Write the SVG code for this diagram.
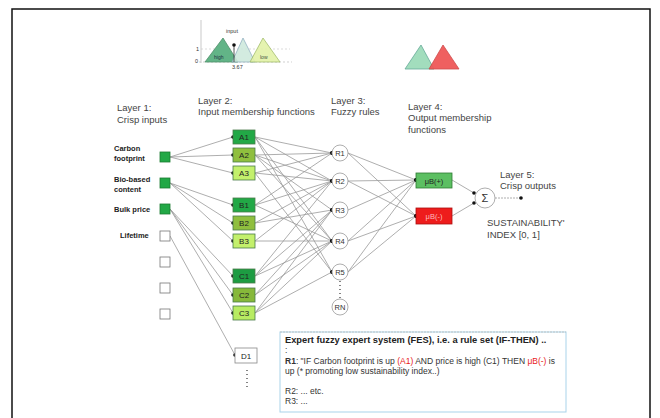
<svg xmlns="http://www.w3.org/2000/svg" width="660" height="418" viewBox="0 0 660 418">
<defs>
<marker id="dot" viewBox="0 0 4 4" refX="2" refY="2" markerWidth="4" markerHeight="4" markerUnits="userSpaceOnUse"><circle cx="2" cy="2" r="1.8" fill="#111"/></marker>
<style>
text{font-family:"Liberation Sans",Arial,sans-serif;fill:#333}
.lbl{font-size:9.5px;fill:#444}
.in{font-size:7.5px;font-weight:bold;fill:#222}
.bx{font-size:8px;fill:#222;text-anchor:middle}
.c{fill:none;stroke:#999;stroke-width:0.8;marker-end:url(#dot)}
.sq{stroke:#1a7a30;stroke-width:0.8}
.wsq{fill:#fff;stroke:#777;stroke-width:0.8}
.mf{stroke:#4a7a4a;stroke-width:0.8}
.rn{fill:#fff;stroke:#999;stroke-width:0.8}
.rt{font-size:7.5px;fill:#333;text-anchor:middle}
.ru{font-size:8.5px;fill:#333}
.red{fill:#e82020}
</style>
</defs>
<rect x="12" y="9" width="638" height="430" fill="#fff" stroke="#111" stroke-width="1.5"/>

<g id="mf-input-plot">
<line x1="201" y1="20" x2="201" y2="63" stroke="#bbb" stroke-width="0.8"/>
<line x1="201" y1="49" x2="290" y2="49" stroke="#ccc" stroke-width="0.7" stroke-dasharray="2,2"/>
<line x1="199" y1="62" x2="292" y2="62" stroke="#bbb" stroke-width="0.7" stroke-dasharray="2,2"/>
<polygon points="205,62 223,38 238,62" fill="#62b487" stroke="#4f8f6a" stroke-width="0.8"/>
<polygon points="232,62 243,38 255,62" fill="#cfe9dd" stroke="#8ab" stroke-width="0.8" opacity="0.9"/>
<polygon points="250,62 263,38 280,62" fill="#e3f2a8" stroke="#9ab860" stroke-width="0.8" opacity="0.9"/>
<line x1="234" y1="45" x2="234" y2="62" stroke="#333" stroke-width="0.8"/>
<circle cx="234" cy="45" r="1.8" fill="#111"/>
<text x="226" y="33" style="font-size:5.5px">input</text>
<text x="196" y="51" style="font-size:5.5px">1</text>
<text x="195" y="63" style="font-size:5.5px">0</text>
<text x="214" y="59" style="font-size:5px;fill:#234">high</text>
<text x="260" y="59" style="font-size:5px;fill:#454">low</text>
<text x="232" y="69" style="font-size:5.5px">3.67</text>
</g>

<g id="mf-output-plot">
<polygon points="405,69 421,45 434,69" fill="#a2ddbd" stroke="#6a9" stroke-width="0.8"/>
<polygon points="429,69 443,45 459,69" fill="#ef5858" stroke="#c44" stroke-width="0.8" opacity="0.95"/>
</g>

<g id="layer-labels">
<text class="lbl" x="117" y="111">Layer 1:</text>
<text class="lbl" x="117" y="123">Crisp  inputs</text>
<text class="lbl" x="198" y="104">Layer 2:</text>
<text class="lbl" x="198" y="115">Input membership functions</text>
<text class="lbl" x="331" y="104">Layer 3:</text>
<text class="lbl" x="331" y="115">Fuzzy rules</text>
<text class="lbl" x="408" y="110">Layer 4:</text>
<text class="lbl" x="408" y="121">Output membership</text>
<text class="lbl" x="408" y="133">functions</text>
<text class="lbl" x="500" y="178">Layer 5:</text>
<text class="lbl" x="500" y="189">Crisp outputs</text>
<text class="lbl" x="487" y="226">SUSTAINABILITY'</text>
<text class="lbl" x="487" y="238">INDEX [0, 1]</text>
</g>

<g id="connectors">
<path class="c" d="M170,157 L233,137"/>
<path class="c" d="M170,157 L233,155"/>
<path class="c" d="M170,157 L233,173"/>
<path class="c" d="M170,183 L233,205"/>
<path class="c" d="M170,183 L233,223"/>
<path class="c" d="M170,183 L233,241"/>
<path class="c" d="M170,209 L233,276"/>
<path class="c" d="M170,209 L233,295"/>
<path class="c" d="M170,209 L233,313"/>
<path class="c" d="M170,236 L235,355"/>
<path class="c" d="M255,137 L332,153"/>
<path class="c" d="M255,137 L332,181"/>
<path class="c" d="M255,137 L332,241"/>
<path class="c" d="M255,137 L332,272"/>
<path class="c" d="M255,155 L332,153"/>
<path class="c" d="M255,155 L332,181"/>
<path class="c" d="M255,155 L332,210"/>
<path class="c" d="M255,155 L332,241"/>
<path class="c" d="M255,173 L332,153"/>
<path class="c" d="M255,173 L332,181"/>
<path class="c" d="M255,173 L332,272"/>
<path class="c" d="M255,205 L332,153"/>
<path class="c" d="M255,205 L332,181"/>
<path class="c" d="M255,205 L332,241"/>
<path class="c" d="M255,223 L332,181"/>
<path class="c" d="M255,223 L332,210"/>
<path class="c" d="M255,241 L332,181"/>
<path class="c" d="M255,241 L332,241"/>
<path class="c" d="M255,276 L332,181"/>
<path class="c" d="M255,276 L332,210"/>
<path class="c" d="M255,276 L332,241"/>
<path class="c" d="M255,295 L332,210"/>
<path class="c" d="M255,295 L332,241"/>
<path class="c" d="M255,313 L332,210"/>
<path class="c" d="M255,313 L332,241"/>
<path class="c" d="M255,313 L332,272"/>
<path class="c" d="M348,153 L416,180"/>
<path class="c" d="M348,153 L416,216"/>
<path class="c" d="M348,181 L416,180"/>
<path class="c" d="M348,181 L416,216"/>
<path class="c" d="M348,210 L416,180"/>
<path class="c" d="M348,241 L416,180"/>
<path class="c" d="M348,241 L416,216"/>
<path class="c" d="M348,272 L416,216"/>
<path class="c" d="M348,272 L416,180"/>
<path class="c" d="M452,180 L474,193"/>
<path class="c" d="M452,216 L474,203"/>
<path class="c" d="M495,198 L521,198" stroke-dasharray="2,1"/>
<line x1="340" y1="281" x2="340" y2="298" stroke="#333" stroke-width="1.2" stroke-dasharray="1,3"/>
<line x1="247" y1="370" x2="247" y2="388" stroke="#333" stroke-width="1.2" stroke-dasharray="1,3"/>
</g>

<g id="layer1">
<g id="in-carbon"><text class="in" x="114" y="151">Carbon</text><text class="in" x="114" y="161">footprint</text><rect class="sq" x="160" y="152" width="10" height="10" fill="#22a846"/></g>
<g id="in-bio"><text class="in" x="114" y="182">Bio-based</text><text class="in" x="114" y="192">content</text><rect class="sq" x="160" y="178" width="10" height="10" fill="#22a846"/></g>
<g id="in-bulk"><text class="in" x="114" y="212">Bulk price</text><rect class="sq" x="160" y="204" width="10" height="10" fill="#22a846"/></g>
<g id="in-lifetime"><text class="in" x="120" y="238">Lifetime</text><rect class="wsq" x="160" y="231" width="10" height="10"/></g>
<g id="in-e1"><rect class="wsq" x="160" y="257" width="10" height="10"/></g>
<g id="in-e2"><rect class="wsq" x="160" y="283" width="10" height="10"/></g>
<g id="in-e3"><rect class="wsq" x="160" y="309" width="10" height="10"/></g>
</g>

<g id="layer2">
<g id="A1"><rect class="mf" x="233" y="130" width="22" height="14" fill="#22a846"/><text class="bx" x="244" y="140">A1</text></g>
<g id="A2"><rect class="mf" x="233" y="148" width="22" height="14" fill="#8fbf3e"/><text class="bx" x="244" y="158">A2</text></g>
<g id="A3"><rect class="mf" x="233" y="166" width="22" height="14" fill="#c3f06c"/><text class="bx" x="244" y="176">A3</text></g>
<g id="B1"><rect class="mf" x="233" y="198" width="22" height="14" fill="#22a846"/><text class="bx" x="244" y="208">B1</text></g>
<g id="B2"><rect class="mf" x="233" y="216" width="22" height="14" fill="#8fbf3e"/><text class="bx" x="244" y="226">B2</text></g>
<g id="B3"><rect class="mf" x="233" y="234" width="22" height="14" fill="#c3f06c"/><text class="bx" x="244" y="244">B3</text></g>
<g id="C1"><rect class="mf" x="233" y="269" width="22" height="14" fill="#1d9c42"/><text class="bx" x="244" y="279">C1</text></g>
<g id="C2"><rect class="mf" x="233" y="288" width="22" height="14" fill="#86b83a"/><text class="bx" x="244" y="298">C2</text></g>
<g id="C3"><rect class="mf" x="233" y="306" width="22" height="14" fill="#b8ec62"/><text class="bx" x="244" y="316">C3</text></g>
<g id="D1"><rect x="235" y="348" width="22" height="15" fill="#fff" stroke="#888" stroke-width="0.8"/><text class="bx" x="246" y="358.5">D1</text></g>
</g>

<g id="layer3">
<g id="R1"><circle class="rn" cx="340" cy="153" r="8"/><text class="rt" x="340" y="156">R1</text></g>
<g id="R2"><circle class="rn" cx="340" cy="181" r="8"/><text class="rt" x="340" y="184">R2</text></g>
<g id="R3"><circle class="rn" cx="340" cy="210" r="8"/><text class="rt" x="340" y="213">R3</text></g>
<g id="R4"><circle class="rn" cx="340" cy="241" r="8"/><text class="rt" x="340" y="244">R4</text></g>
<g id="R5"><circle class="rn" cx="340" cy="272" r="8"/><text class="rt" x="340" y="275">R5</text></g>
<g id="RN"><circle class="rn" cx="340" cy="307" r="8"/><text class="rt" x="340" y="310">RN</text></g>
</g>

<g id="layer4">
<g id="B-plus"><rect x="416" y="173" width="36" height="15" fill="#5cbf62" stroke="#2d7a33" stroke-width="0.8"/><text class="bx" x="434" y="183.5" style="font-size:7.5px">μB(+)</text></g>
<g id="B-minus"><rect x="416" y="208" width="36" height="16" fill="#ee1c1c" stroke="#a11" stroke-width="0.8"/><text class="bx" x="434" y="219" style="font-size:7.5px;fill:#fbb">μB(-)</text></g>
</g>

<g id="layer5">
<circle cx="485" cy="198" r="10" fill="#fff" stroke="#999" stroke-width="0.8"/>
<text x="485" y="202" style="font-size:11px;text-anchor:middle;fill:#333">Σ</text>
</g>

<g id="rule-box">
<rect x="280" y="332" width="286" height="80" fill="#fff" stroke="#a9d3ea" stroke-width="1"/>
<line x1="280" y1="332" x2="566" y2="332" stroke="#bbb" stroke-width="0.8" stroke-dasharray="2,1"/>
<text x="285" y="343" style="font-size:9.3px;font-weight:bold;fill:#222">Expert fuzzy expert system (FES), i.e. a rule set (IF-THEN) ..</text>
<text class="ru" x="285" y="353">:</text>
<text class="ru" x="285" y="364"><tspan font-weight="bold">R1</tspan>: "IF Carbon footprint is up <tspan class="red">(A1)</tspan> AND price is high (C1) THEN <tspan class="red">μB(-)</tspan> is</text>
<text class="ru" x="285" y="374">up (* promoting low sustainability index..)</text>
<text class="ru" x="285" y="394">R2: ... etc.</text>
<text class="ru" x="285" y="404">R3: ...</text>
</g>
</svg>
